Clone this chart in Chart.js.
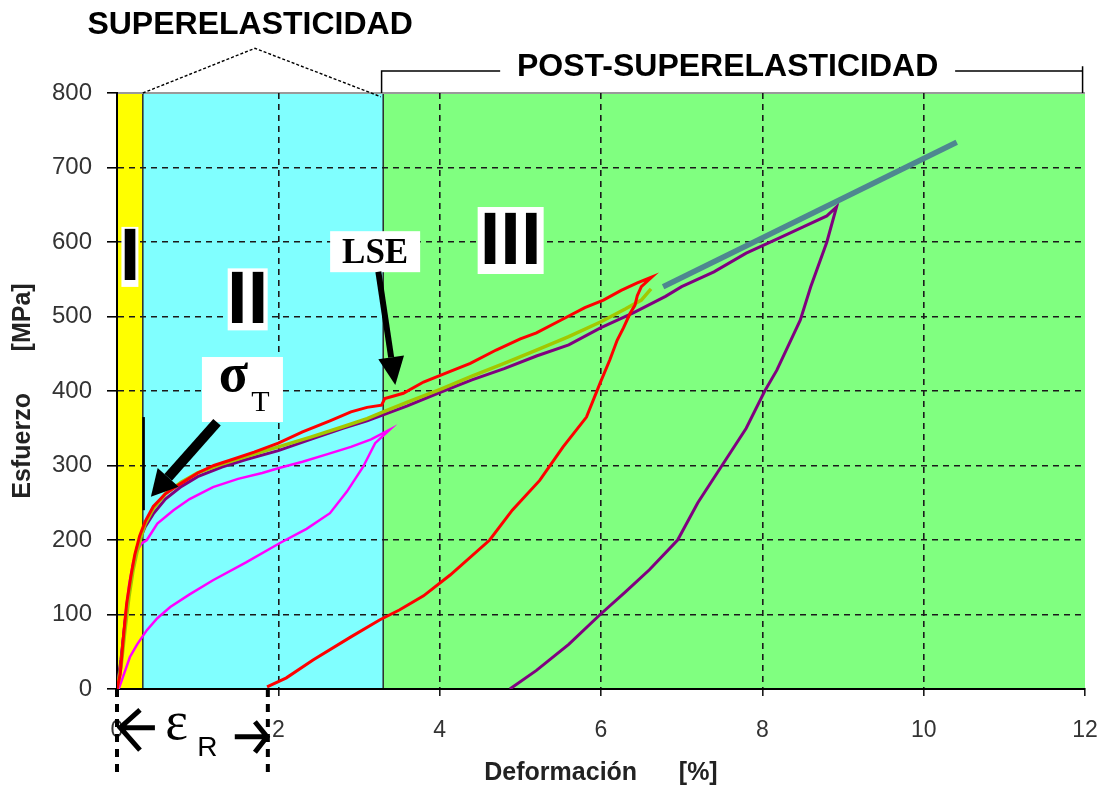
<!DOCTYPE html>
<html><head><meta charset="utf-8">
<script src="https://cdn.jsdelivr.net/npm/chart.js@4"></script>
<style>html,body{margin:0;padding:0;background:#fff}#wrap{width:1103px;height:789px;position:relative}</style>
</head><body><div id="wrap"><canvas id="c"></canvas></div>
<script>
// ---- data ----
const xTickValues = [0, 2, 4, 6, 8, 10, 12];
const yTickValues = [0, 100, 200, 300, 400, 500, 600, 700, 800];
const regionEdges = [0, 0.32, 3.3, 12];
const regionLabels = ['I', 'II', 'III'];

const redX = [0,0.04,0.08,0.12,0.17,0.22,0.28,0.35,0.45,0.6,0.78,1.0,1.2,1.4,1.7,2.0,2.3,2.64,2.9,3.1,3.28,3.32,3.55,3.8,4.1,4.38,4.7,5.0,5.2,5.5,5.8,6.03,6.25,6.45,6.63,6.5,6.45,6.42,6.36,6.28,6.2,6.11,5.99,5.82,5.53,5.24,4.9,4.62,4.13,3.8,3.5,3.26,2.9,2.43,2.1,1.86];
const redY = [0,20,70,115,150,180,205,225,245,262,275,290,300,307,318,330,345,360,372,378,381,390,397,412,425,437,455,470,478,495,512,522,535,545,553,540,528,515,504,485,468,442,411,365,325,280,240,200,153,125,106,93,70,39,15,3];

const greenX = [0,0.05,0.1,0.15,0.2,0.25,0.3,0.35,0.45,0.6,0.8,1.0,1.3,1.6,2.0,2.4,2.8,3.1,3.3,3.6,4.0,4.4,4.8,5.2,5.6,6.0,6.3,6.5,6.62];
const greenY = [0,30,80,125,160,185,205,222,242,262,278,290,302,312,325,338,352,363,372,385,402,420,437,455,473,493,510,522,537];

const purpleX = [0,0.05,0.1,0.15,0.2,0.25,0.3,0.35,0.45,0.6,0.8,1.0,1.3,1.6,2.0,2.4,2.8,3.1,3.3,3.6,4.0,4.4,4.8,5.2,5.6,6.0,6.4,6.8,7.0,7.4,7.8,8.2,8.5,8.8,8.92,8.8,8.6,8.47,8.18,8.03,7.8,7.5,7.2,6.95,6.6,6.3,5.99,5.6,5.2,4.87];
const purpleY = [0,40,90,130,165,190,205,218,235,255,272,285,298,308,320,335,350,360,368,380,398,415,430,447,462,485,505,527,540,560,585,605,620,635,647,600,540,495,428,400,350,300,250,200,160,130,100,60,25,0];

const magentaX = [0,0.05,0.1,0.15,0.2,0.25,0.3,0.37,0.5,0.7,0.9,1.19,1.5,1.8,2.02,2.3,2.6,2.9,3.15,3.38,3.2,3.05,2.85,2.64,2.35,2.02,1.6,1.19,0.9,0.66,0.5,0.37,0.25,0.16,0.06,0.02];
const magentaY = [0,40,95,140,170,185,195,200,222,240,255,271,282,290,297,305,315,325,335,348,330,298,265,236,215,196,170,146,127,110,95,79,60,43,12,0];

const fitX = [6.77, 10.41];
const fitY = [540, 734];

const pts = (xs, ys) => xs.map((v, i) => ({x: v, y: ys[i]}));
const FONT = "'Liberation Sans', Arial, sans-serif";
const SERIF = "'Liberation Serif', 'Times New Roman', serif";

// ---- plugins ----
const bgPlugin = {
  id: 'bg',
  beforeDraw(chart) {
    const {ctx, chartArea: a, scales: {x}} = chart;
    const cols = ['#FFFF00', '#80FFFF', '#80FF80'];
    ctx.save();
    for (let i = 0; i < regionLabels.length; i++) {
      const x0 = x.getPixelForValue(regionEdges[i]);
      const x1 = x.getPixelForValue(regionEdges[i + 1]);
      ctx.fillStyle = cols[i];
      ctx.fillRect(x0, a.top, x1 - x0, a.bottom - a.top);
    }
    ctx.strokeStyle = '#2a2a2a';
    ctx.lineWidth = 1.5;
    [1, 2].forEach(i => {
      const xp = x.getPixelForValue(regionEdges[i]);
      ctx.beginPath(); ctx.moveTo(xp, a.top); ctx.lineTo(xp, a.bottom); ctx.stroke();
    });
    ctx.strokeStyle = '#9a9a9a';
    ctx.lineWidth = 2;
    ctx.beginPath(); ctx.moveTo(a.left, a.top); ctx.lineTo(a.right, a.top); ctx.stroke();
    ctx.restore();
  }
};

function arrow(ctx, x0, y0, x1, y1, shaft, headLen, headW) {
  const ang = Math.atan2(y1 - y0, x1 - x0);
  const bx = x1 - headLen * Math.cos(ang), by = y1 - headLen * Math.sin(ang);
  ctx.lineWidth = shaft;
  ctx.lineCap = 'butt';
  ctx.beginPath(); ctx.moveTo(x0, y0); ctx.lineTo(bx, by); ctx.stroke();
  const nx = -Math.sin(ang), ny = Math.cos(ang);
  ctx.beginPath();
  ctx.moveTo(x1, y1);
  ctx.lineTo(bx + nx * headW / 2, by + ny * headW / 2);
  ctx.lineTo(bx - nx * headW / 2, by - ny * headW / 2);
  ctx.closePath(); ctx.fill();
}

const annPlugin = {
  id: 'ann',
  afterDraw(chart) {
    const {ctx, scales: {x, y}} = chart;
    const P = (xv, yv) => [x.getPixelForValue(xv), y.getPixelForValue(yv)];
    ctx.save();
    ctx.fillStyle = '#000'; ctx.strokeStyle = '#000';

    // top labels
    ctx.font = 'bold 32px ' + FONT;
    ctx.textAlign = 'center'; ctx.textBaseline = 'middle';
    let p = P(1.65, 891); ctx.fillText('SUPERELASTICIDAD', p[0], p[1]);
    p = P(7.57, 835); ctx.fillText('POST-SUPERELASTICIDAD', p[0], p[1]);

    // roof
    ctx.lineWidth = 1.4; ctx.setLineDash([3, 2]);
    ctx.beginPath();
    p = P(0.32, 800); ctx.moveTo(p[0], p[1]);
    p = P(1.71, 860); ctx.lineTo(p[0], p[1]);
    p = P(3.27, 795); ctx.lineTo(p[0], p[1]);
    ctx.stroke();
    ctx.setLineDash([]);

    // bracket
    ctx.lineWidth = 1.5;
    ctx.beginPath();
    p = P(3.28, 800); ctx.moveTo(p[0], p[1]);
    p = P(3.28, 829.5); ctx.lineTo(p[0], p[1]);
    p = P(4.75, 829.5); ctx.lineTo(p[0], p[1]);
    p = P(10.39, 829.5); ctx.moveTo(p[0], p[1]);
    p = P(11.97, 829.5); ctx.lineTo(p[0], p[1]);
    p = P(11.97, 836); ctx.moveTo(p[0], p[1]);
    p = P(11.97, 800); ctx.lineTo(p[0], p[1]);
    ctx.stroke();

    // region boxes
    const box = (xv, yv, w, h) => { const q = P(xv, yv); ctx.fillStyle = '#fff'; ctx.fillRect(q[0] - w / 2, q[1] - h / 2, w, h); ctx.fillStyle = '#000'; return q; };
    ctx.font = 'bold 74px ' + FONT;
    p = box(0.16, 580, 17, 60); ctx.fillText(regionLabels[0], p[0], p[1] + 3);
    p = box(1.62, 523, 40, 62); ctx.fillText(regionLabels[1], p[0], p[1] + 3);
    p = box(4.88, 602, 66, 67); ctx.fillText(regionLabels[2], p[0], p[1] + 3);

    // LSE
    p = box(3.2, 587, 90, 41);
    ctx.font = 'bold 35px ' + SERIF; ctx.fillText('LSE', p[0], p[1] + 2);
    let a0 = P(3.24, 560), a1 = P(3.45, 408);
    arrow(ctx, a0[0], a0[1], a1[0], a1[1], 6, 28, 26);

    // sigma_T
    p = box(1.555, 402, 81, 65);
    ctx.font = 'bold 54px ' + SERIF; ctx.fillText('σ', p[0] - 9, p[1] - 12);
    ctx.font = '30px ' + SERIF; ctx.fillText('T', p[0] + 18, p[1] + 14);
    a0 = P(1.24, 358); a1 = P(0.42, 258);
    arrow(ctx, a0[0], a0[1], a1[0], a1[1], 10, 26, 28);
    ctx.lineWidth = 2.5;
    ctx.beginPath(); p = P(0.33, 365); ctx.moveTo(p[0], p[1]); p = P(0.33, 240); ctx.lineTo(p[0], p[1]); ctx.stroke();

    // epsilon_R
    ctx.lineWidth = 4; ctx.setLineDash([8, 7]);
    ctx.beginPath();
    p = P(0, 0); ctx.moveTo(p[0], p[1]); p = P(0, -115); ctx.lineTo(p[0], p[1]);
    p = P(1.87, 0); ctx.moveTo(p[0], p[1]); p = P(1.87, -115); ctx.lineTo(p[0], p[1]);
    ctx.stroke(); ctx.setLineDash([]);
    ctx.lineWidth = 5; ctx.lineCap = 'butt';
    ctx.beginPath();
    p = P(0.47, -52); ctx.moveTo(p[0], p[1]); p = P(0.04, -52); ctx.lineTo(p[0], p[1]);
    p = P(0.285, -28); ctx.moveTo(p[0], p[1]); p = P(0.04, -52); ctx.lineTo(p[0], p[1]); p = P(0.285, -82); ctx.lineTo(p[0], p[1]);
    p = P(1.46, -64); ctx.moveTo(p[0], p[1]); p = P(1.83, -64); ctx.lineTo(p[0], p[1]);
    p = P(1.71, -44); ctx.moveTo(p[0], p[1]); p = P(1.86, -64); ctx.lineTo(p[0], p[1]); p = P(1.71, -85); ctx.lineTo(p[0], p[1]);
    ctx.stroke();
    ctx.font = '54px ' + SERIF; p = P(0.74, -54); ctx.fillText('ε', p[0], p[1] - 4);
    ctx.font = '28px ' + FONT; p = P(1.12, -79); ctx.fillText('R', p[0], p[1]);
    ctx.restore();
  }
};

const ds = (label, xs, ys, color, w) => ({
  label, data: pts(xs, ys), borderColor: color, backgroundColor: color,
  borderWidth: w, showLine: true, pointRadius: 0, tension: 0, fill: false
});

new Chart(document.getElementById('c'), {
  type: 'scatter',
  data: {
    datasets: [
      ds('ajuste', fitX, fitY, '#4E8790', 5.5),
      ds('ciclo 6.6 %', redX, redY, '#FF0000', 3),
      ds('carga', greenX, greenY, '#A2C800', 3.5),
      ds('ciclo 9 %', purpleX, purpleY, '#800080', 3),
      ds('ciclo 3.3 %', magentaX, magentaY, '#FF00FF', 2.5)
    ]
  },
  options: {
    responsive: true, maintainAspectRatio: false, animation: false,
    layout: {padding: {left: 0, right: 18, top: 93, bottom: 0}},
    plugins: {legend: {display: false}, tooltip: {enabled: false}},
    scales: {
      x: {
        type: 'linear', min: 0, max: 12,
        afterFit: s => { s.height = 100; },
        afterBuildTicks: s => { s.ticks = xTickValues.map(v => ({value: v})); },
        ticks: {color: '#333', font: {family: FONT, size: 23, lineHeight: 2.15}, padding: 5},
        border: {display: true, color: '#000', width: 2, dash: [6, 5]},
        grid: {
          color: c => (c.tick && (c.tick.value === 0 || c.tick.value === 12)) ? 'rgba(0,0,0,0)' : '#1a1a1a',
          lineWidth: 1.6, tickLength: 12, tickColor: '#1a1a1a', tickWidth: 1.6, tickBorderDash: [6, 5]
        },
        title: {display: true, text: 'Deformación      [%]', color: '#222', font: {family: FONT, size: 25, weight: 'bold'}, padding: {top: 0, bottom: 1}}
      },
      y: {
        type: 'linear', min: 0, max: 800,
        afterFit: s => { s.width = 117; },
        afterBuildTicks: s => { s.ticks = yTickValues.map(v => ({value: v})); },
        ticks: {color: '#333', font: {family: FONT, size: 24}, padding: 15},
        border: {display: true, color: '#000', width: 2, dash: [6, 5]},
        grid: {
          color: c => (c.tick && (c.tick.value === 0 || c.tick.value === 800)) ? 'rgba(0,0,0,0)' : '#1a1a1a',
          lineWidth: 1.6, tickLength: 10, tickColor: '#000', tickWidth: 1.6, tickBorderDash: [20, 0]
        },
        title: {display: true, text: 'Esfuerzo      [MPa]', color: '#222', font: {family: FONT, size: 25, weight: 'bold'}, padding: {top: 8, bottom: 0}}
      }
    }
  },
  plugins: [bgPlugin, annPlugin]
});
</script>
</body></html>
